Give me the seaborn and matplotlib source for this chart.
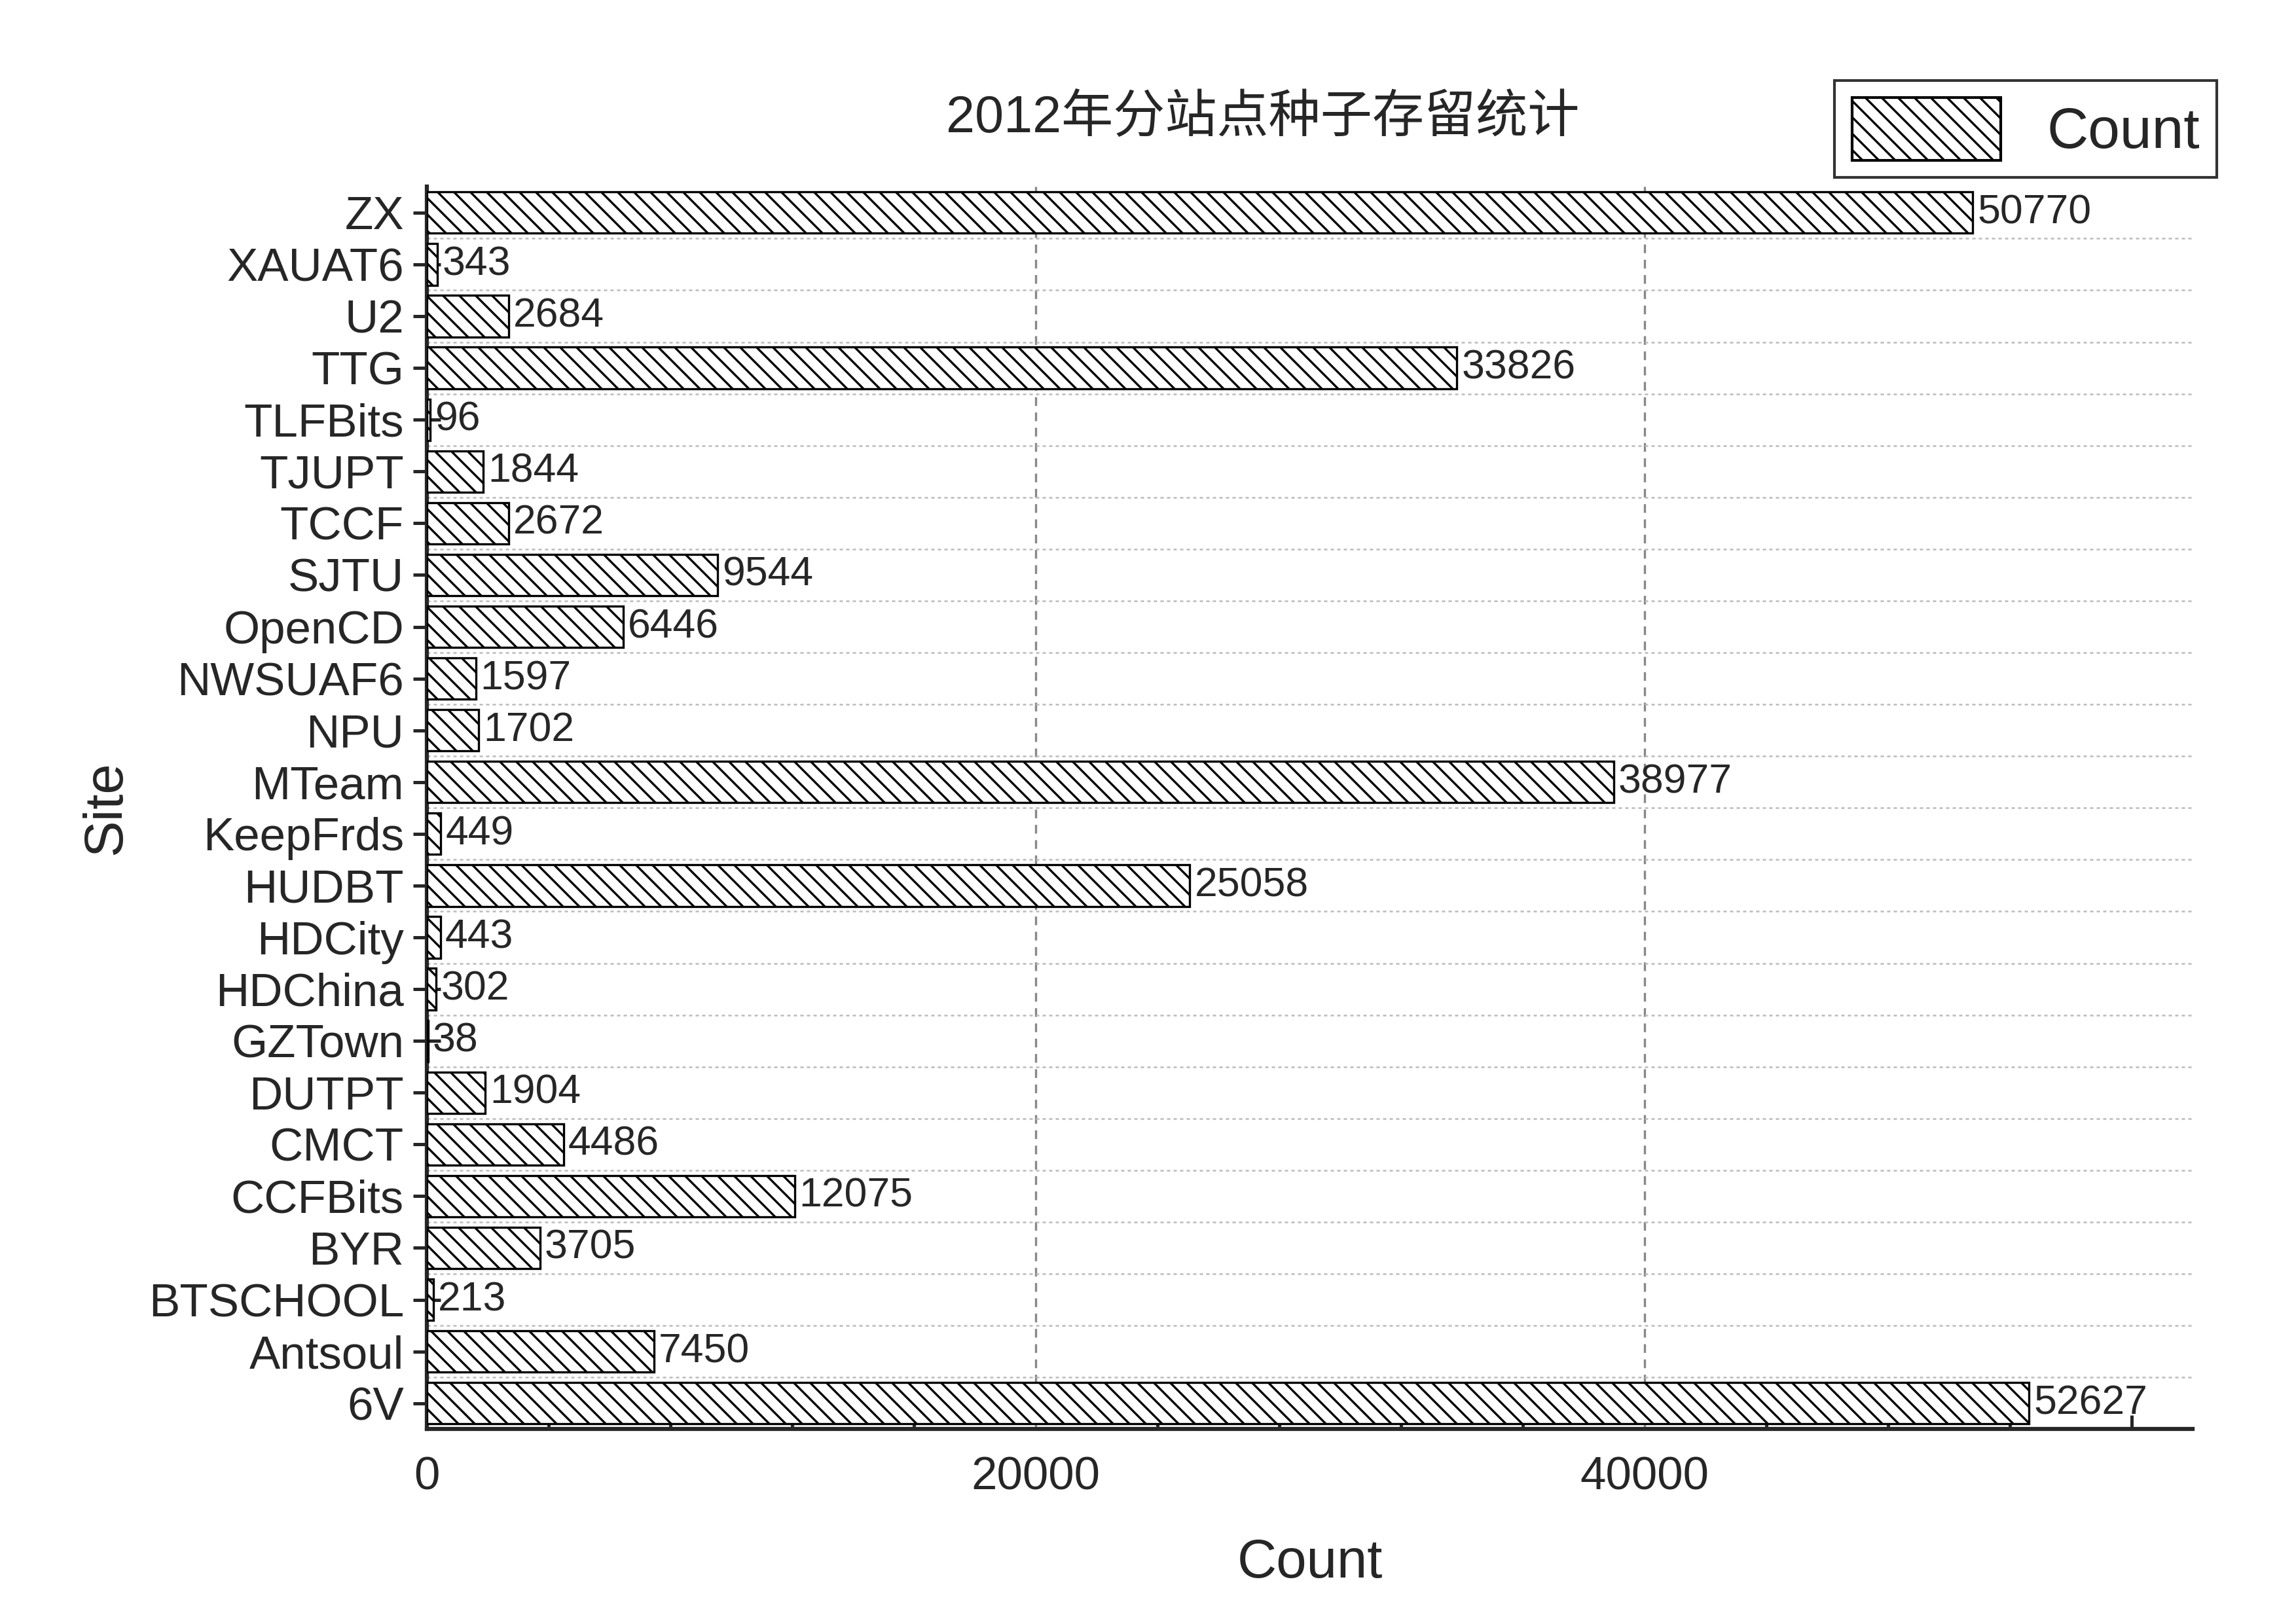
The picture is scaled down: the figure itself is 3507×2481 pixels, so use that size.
import matplotlib
matplotlib.use("Agg")
import matplotlib.pyplot as plt
import matplotlib.patches as mpatches
import seaborn as sns
import pandas as pd
from matplotlib.ticker import MultipleLocator

sites = ["ZX", "XAUAT6", "U2", "TTG", "TLFBits", "TJUPT", "TCCF", "SJTU", "OpenCD",
         "NWSUAF6", "NPU", "MTeam", "KeepFrds", "HUDBT", "HDCity", "HDChina", "GZTown",
         "DUTPT", "CMCT", "CCFBits", "BYR", "BTSCHOOL", "Antsoul", "6V"]
counts = [50770, 343, 2684, 33826, 96, 1844, 2672, 9544, 6446, 1597, 1702, 38977,
          449, 25058, 443, 302, 38, 1904, 4486, 12075, 3705, 213, 7450, 52627]

df = pd.DataFrame({"Site": sites, "Count": counts})

sns.set_style("white")
plt.rcParams["font.family"] = ["Liberation Sans", "Noto Sans CJK SC", "DejaVu Sans"]
plt.rcParams["hatch.linewidth"] = 0.8

fig = plt.figure(figsize=(11.69, 8.27), dpi=300)
ax = fig.add_axes([0.186, 0.12, 0.769, 0.765])

sns.barplot(data=df, x="Count", y="Site", order=sites, orient="h", ax=ax,
            color="white", edgecolor="black", linewidth=0.8, width=0.8, zorder=3)
for p in ax.patches:
    p.set_hatch("\\\\\\\\")

for i, v in enumerate(counts):
    ax.text(v + 150, i, str(v), va="center", ha="left", fontsize=15, zorder=4)

ax.set_xlim(0, 58000)
ax.set_ylim(len(sites) - 0.5, -0.5)
ax.xaxis.set_major_locator(MultipleLocator(20000))
ax.xaxis.set_minor_locator(MultipleLocator(4000))
ax.tick_params(axis="x", which="major", direction="in", length=8, width=1.2, labelsize=17, pad=10)
ax.tick_params(axis="x", which="minor", direction="in", length=5, width=1.2, bottom=True)
ax.tick_params(axis="y", direction="inout", length=10, width=1.2, labelsize=17, left=True)

# grid: vertical dashed at majors, horizontal dotted between bars
for xv in [20000, 40000]:
    ax.axvline(xv, color="#888888", ls=(0, (4, 3)), lw=0.8, zorder=1)
for k in range(len(sites) - 1):
    ax.axhline(k + 0.5, color="#bbbbbb", ls=(0, (2, 2)), lw=0.6, zorder=1)

for s in ["top", "right"]:
    ax.spines[s].set_visible(False)
for s in ["left", "bottom"]:
    ax.spines[s].set_linewidth(1.5)

ax.set_xlabel("Count", fontsize=20, labelpad=14)
ax.set_ylabel("Site", fontsize=20, labelpad=6)
fig.text(0.55, 0.927, "2012年分站点种子存留统计", ha="center", va="center", fontsize=19)

handle = mpatches.Patch(facecolor="white", edgecolor="black", hatch="\\\\\\\\", label="Count")
fig.legend(handles=[handle], loc="upper right", bbox_to_anchor=(0.978, 0.968),
           fontsize=21, frameon=True, fancybox=False, edgecolor="black",
           handlelength=2.6, handleheight=1.3, borderpad=0.3)

fig.savefig("out.png", dpi=300)
